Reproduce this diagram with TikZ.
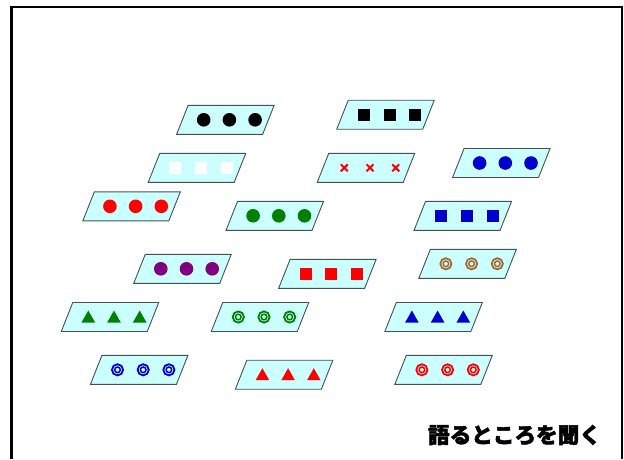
\documentclass[tikz,border=0pt]{standalone}
\usepackage{fontspec}
\newfontfamily\jpfont{Noto Sans CJK JP}[BoldFeatures={FakeBold=2}]
\usetikzlibrary{calc}
\definecolor{cardfill}{RGB}{204,255,255}
\definecolor{cardedge}{RGB}{70,80,80}
\definecolor{symred}{RGB}{255,0,0}
\definecolor{symgreen}{RGB}{0,128,0}
\definecolor{symblue}{RGB}{0,0,204}
\definecolor{sympurple}{RGB}{128,0,128}
\definecolor{symbrown}{RGB}{165,105,50}
\tikzset{
  card/.pic={\draw[cardedge,fill=cardfill,line width=0.9]
     (-37.25,-14.5)--(48.75,-14.5)--(37.25,14.5)--(-48.75,14.5)--cycle;},
  dot/.pic={\fill (0,0) circle (6.8);},
  sq/.pic={\fill (-6,-6) rectangle (6,6);},
  cross/.pic={\draw[line width=2] (-3.5,-3.5)--(3.5,3.5) (-3.5,3.5)--(3.5,-3.5);},
  ring/.pic={\draw[line width=1.8] (0,0) circle (5.6);
             \draw[line width=1.5] (0,0) circle (2.8);},
  tri/.pic={\fill (-6.8,5.5)--(6.8,5.5)--(0,-6.5)--cycle;}
}
% one card with three equal symbols
\newcommand{\cardrow}[4]{%
  \pic at (#1,#2) {card};
  \foreach \dx in {-21.7,4,29.7} \pic[#4] at (#1+\dx,#2) {#3};}

\begin{document}
\begin{tikzpicture}[x=1pt,y=-1pt]
\useasboundingbox (0,0) rectangle (624,459);
% ---------------- frame ----------------
\draw[line width=2.5] (11.5,459)--(11.5,7)--(622,7)--(622,459);
% ---------------- cards ----------------
\cardrow{225.4}{119.8}{dot}{black}
\cardrow{385.5}{114.7}{sq}{black}
\cardrow{197}{167.8}{sq}{white}
\cardrow{366}{167.8}{cross}{symred}
\cardrow{501.3}{163}{dot}{symblue}
\cardrow{131.6}{206.3}{dot}{symred}
\cardrow{274.8}{215.8}{dot}{symgreen}
\cardrow{462.8}{215.8}{sq}{symblue}
\cardrow{182.5}{268.8}{dot}{sympurple}
\cardrow{327.4}{273.8}{sq}{symred}
\cardrow{467.6}{263.8}{ring}{symbrown}
\cardrow{110}{317}{tri}{symgreen}
\cardrow{260}{317}{ring}{symgreen}
\cardrow{433.6}{317}{tri}{symblue}
\cardrow{139.2}{369.8}{ring}{symblue}
\cardrow{284.1}{374.7}{tri}{symred}
\cardrow{443.6}{369.8}{ring}{symred}
% ---------------- caption ----------------
\node[font=\jpfont\bfseries\fontsize{21.6}{21.6}\selectfont] (caption) at (514.5,435)
   {語るところを聞く};
\end{tikzpicture}
\end{document}
